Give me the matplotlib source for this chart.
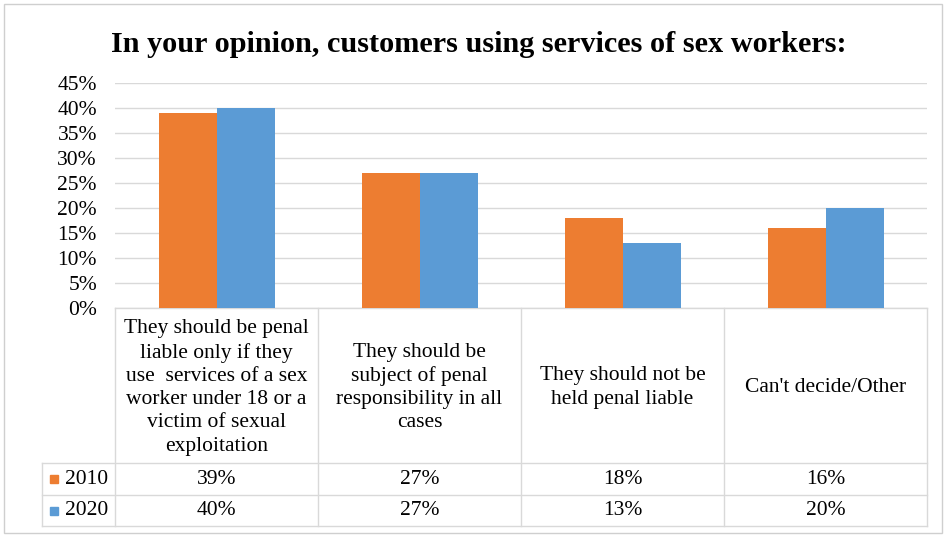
import numpy as np
import matplotlib
matplotlib.use('Agg')
import matplotlib.pyplot as plt
from matplotlib.patches import Rectangle
import matplotlib.transforms as mtransforms

# --------------- Data ---------------
categories = ['They should be penal\nliable only if they\nuse  services of a sex\nworker under 18 or a\nvictim of sexual\nexploitation',
              'They should be\nsubject of penal\nresponsibility in all\ncases',
              'They should not be\nheld penal liable',
              "Can't decide/Other"]
years = ['2010', '2020']
vals_2010 = [39, 27, 18, 16]
vals_2020 = [40, 27, 13, 20]
colors = ['#ED7D31', '#5B9BD5']
yticks = np.arange(0, 50, 5)

W, H = 946, 536
FS = 15.5
plt.rcParams['font.family'] = ['Liberation Serif', 'DejaVu Serif']

fig = plt.figure(figsize=(W / 100, H / 100), dpi=100)

# axes box in pixels
x0, x1 = 115, 927
y_top, y_zero = 83, 308
ax = fig.add_axes([x0 / W, 1 - y_zero / H, (x1 - x0) / W, (y_zero - y_top) / H])

n = len(categories)
x = np.arange(n)
bw = 1 / 3.5
ax.bar(x - bw / 2, vals_2010, bw, color=colors[0], zorder=3)
ax.bar(x + bw / 2, vals_2020, bw, color=colors[1], zorder=3)

ax.set_xlim(-0.5, n - 0.5)
ax.set_ylim(0, 45)
ax.set_yticks(yticks)
ax.set_yticklabels(['%d%%' % t for t in yticks], fontsize=FS)
ax.tick_params(axis='y', length=0, pad=13)
ax.set_xticks([])
ax.grid(axis='y', color='#d9d9d9', linewidth=1, zorder=0)
for s in ax.spines.values():
    s.set_visible(False)

# --------------- Data table ---------------
grid_c = '#d9d9d9'
def ay(p):
    return (y_zero - p) / (y_zero - y_top)

tr = mtransforms.blended_transform_factory(ax.transData, ax.transAxes)
col_px = (x1 - x0) / n
legend_left = -0.5 - (x0 - 42) / col_px
r_cat, r1, r2 = 463, 495, 526

ax.plot([-0.5, n - 0.5], [0, 0], transform=tr, color=grid_c, lw=1, clip_on=False)
for p in [r_cat, r1, r2]:
    ax.plot([legend_left, n - 0.5], [ay(p), ay(p)], transform=tr, color=grid_c, lw=1, clip_on=False)
for i in range(n + 1):
    ax.plot([i - 0.5, i - 0.5], [0, ay(r2)], transform=tr, color=grid_c, lw=1, clip_on=False)
ax.plot([legend_left, legend_left], [ay(r_cat), ay(r2)], transform=tr, color=grid_c, lw=1, clip_on=False)

for i, c in enumerate(categories):
    ax.text(i, ay((y_zero + r_cat) / 2 + 2), c, transform=tr, ha='center', va='center',
            fontsize=FS, linespacing=1.3)

rows = [vals_2010, vals_2020]
bounds = [(r_cat, r1), (r1, r2)]
for k in range(2):
    ym = (bounds[k][0] + bounds[k][1]) / 2
    yc = ay(ym)
    for i in range(n):
        ax.text(i, yc, '%d%%' % rows[k][i], transform=tr, ha='center', va='center', fontsize=FS)
    ax.add_patch(Rectangle((legend_left + 8 / col_px, ay(ym + 4)), 8 / col_px, 8 / (y_zero - y_top),
                           transform=tr, color=colors[k], clip_on=False))
    ax.text(legend_left + 23 / col_px, yc, years[k], transform=tr, ha='left', va='center', fontsize=FS)

# --------------- Title & frame ---------------
fig.text(479 / W, 1 - 45 / H, 'In your opinion, customers using services of sex workers:',
         ha='center', va='center', fontsize=21.8, fontweight='bold')
fig.patches.append(Rectangle((4 / W, 3 / H), 938 / W, 529 / H, transform=fig.transFigure,
                             fill=False, edgecolor='#cfcfcf', lw=1))

fig.savefig('out.png', dpi=100)
